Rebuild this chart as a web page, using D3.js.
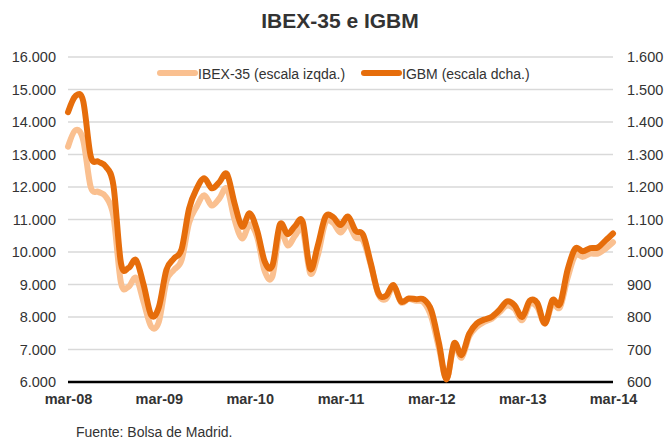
<!DOCTYPE html>
<html>
<head>
<meta charset="utf-8">
<script src="https://cdn.jsdelivr.net/npm/d3@7"></script>
<style>
  body { margin: 0; background: #fff; }
  svg { display: block; font-family: "Liberation Sans", Arial, sans-serif; }
  .grid line { stroke: #d9d9d9; stroke-width: 1.3; }
  .axis text { fill: #333; font-size: 14.5px; }
  .axis path, .axis line { display: none; }
  .xaxis text { font-weight: bold; fill: #333; }
</style>
</head>
<body>
<svg id="chart" width="667" height="441"></svg>
<script>
// datos mensuales, mar-08 a mar-14
var ibex = [
  13240, 13750, 13450, 12000, 11850, 11700, 11100, 9050, 8930, 9200, 8450, 7700,
  7850, 9100, 9450, 9750, 10900, 11400, 11750, 11430, 11650, 11950, 11000, 10420,
  10850, 10450, 9400, 9250, 10650, 10200, 10500, 10700, 9350, 9900, 10900, 10900,
  10600, 10850, 10450, 10350, 9600, 8700, 8550, 8950, 8450, 8550, 8500, 8450,
  8000, 7050, 6100, 7100, 6750, 7400, 7700, 7850, 7950, 8150, 8350, 8250,
  7900, 8400, 8300, 7800, 8400, 8300, 9200, 9900, 9850, 9950, 9950, 10100,
  10300
]
var igbm = [
  1430, 1480, 1465, 1295, 1278, 1263, 1205, 965, 951, 975, 898, 805,
  830, 945, 980, 1008, 1134, 1195, 1227, 1196, 1215, 1240, 1150, 1078,
  1119, 1065, 970, 958, 1085, 1055, 1080, 1093, 948, 1020, 1108, 1108,
  1083, 1109, 1065, 1052, 965, 873, 865, 898, 848, 857, 855, 854,
  820, 720, 608, 719, 683, 748, 780, 792, 801, 822, 848, 836,
  800, 850, 843, 780, 852, 840, 945, 1010, 1002, 1012, 1014, 1035,
  1057
]
var xLabels = ["mar-08", "mar-09", "mar-10", "mar-11", "mar-12", "mar-13", "mar-14"]
var leftTicks = [6000, 7000, 8000, 9000, 10000, 11000, 12000, 13000, 14000, 15000, 16000]
var rightTicks = [600, 700, 800, 900, 1000, 1100, 1200, 1300, 1400, 1500, 1600]

var colorIbex = "#fac090"
var colorIgbm = "#e66d0b"

var svg = d3.select("#chart")
var plotLeft = 68, plotRight = 613, plotTop = 57, plotBottom = 382

var es = d3.formatLocale({ decimal: ",", thousands: ".", grouping: [3], currency: ["", "€"] })
var fmt = es.format(",d")

var x = d3.scaleLinear().domain([0, ibex.length - 1]).range([plotLeft, plotRight])
var yL = d3.scaleLinear().domain([6000, 16000]).range([plotBottom, plotTop])
var yR = d3.scaleLinear().domain([600, 1600]).range([plotBottom, plotTop])

// rejilla
svg.append("g").attr("class", "grid")
  .selectAll("line").data(leftTicks.slice(1)).enter()
  .append("line")
  .attr("x1", plotLeft).attr("x2", plotRight)
  .attr("y1", function(d) { return yL(d) }).attr("y2", function(d) { return yL(d) })

// ejes
svg.append("g").attr("class", "axis")
  .attr("transform", "translate(" + (plotLeft - 7) + ",0)")
  .call(d3.axisLeft(yL).tickValues(leftTicks).tickFormat(fmt).tickSize(0).tickPadding(5))

svg.append("g").attr("class", "axis")
  .attr("transform", "translate(" + (plotRight + 9) + ",0)")
  .call(d3.axisRight(yR).tickValues(rightTicks).tickFormat(fmt).tickSize(0).tickPadding(5))

svg.append("g").attr("class", "axis xaxis")
  .attr("transform", "translate(0," + plotBottom + ")")
  .call(d3.axisBottom(x).tickValues(d3.range(0, ibex.length, 12))
    .tickFormat(function(d, i) { return xLabels[i] }).tickSize(0).tickPadding(12))

svg.append("line")
  .attr("x1", plotLeft).attr("x2", plotRight)
  .attr("y1", plotBottom).attr("y2", plotBottom)
  .attr("stroke", "#000").attr("stroke-width", 2.6)

// líneas
var lineL = d3.line().x(function(d, i) { return x(i) }).y(function(d) { return yL(d) })
  .curve(d3.curveCardinal.tension(0))
var lineR = d3.line().x(function(d, i) { return x(i) }).y(function(d) { return yR(d) })
  .curve(d3.curveCardinal.tension(0))

svg.append("path").datum(ibex)
  .attr("d", lineL).attr("fill", "none")
  .attr("stroke", colorIbex).attr("stroke-width", 6)
  .attr("stroke-linejoin", "round").attr("stroke-linecap", "round")

svg.append("path").datum(igbm)
  .attr("d", lineR).attr("fill", "none")
  .attr("stroke", colorIgbm).attr("stroke-width", 6)
  .attr("stroke-linejoin", "round").attr("stroke-linecap", "round")

// leyenda
var legend = [
  { name: "IBEX-35 (escala izqda.)", color: colorIbex, x: 160 },
  { name: "IGBM (escala dcha.)", color: colorIgbm, x: 364 }
]
var lg = svg.append("g").selectAll("g").data(legend).enter().append("g")
  .attr("transform", function(d) { return "translate(" + d.x + ",73)" })
lg.append("line").attr("x1", 0).attr("x2", 35)
  .attr("stroke", function(d) { return d.color })
  .attr("stroke-width", 6).attr("stroke-linecap", "round")
lg.append("text").attr("x", 38).attr("y", 5.5)
  .style("font-size", "14px").style("fill", "#333")
  .text(function(d) { return d.name })

// título y fuente
svg.append("text")
  .attr("x", 340).attr("y", 27.5).attr("text-anchor", "middle")
  .style("font-size", "21px").style("font-weight", "bold").style("fill", "#333")
  .text("IBEX-35 e IGBM")

svg.append("text")
  .attr("x", 76).attr("y", 437)
  .style("font-size", "14px").style("fill", "#333")
  .text("Fuente: Bolsa de Madrid.")
</script>
</body>
</html>
